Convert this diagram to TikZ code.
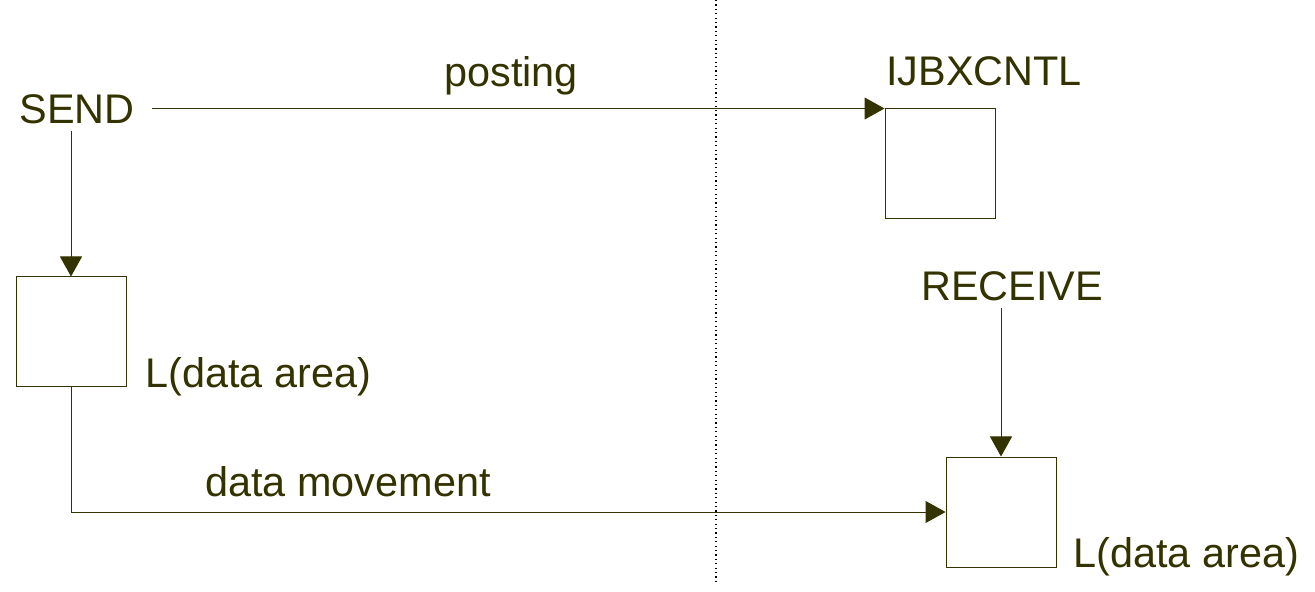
\documentclass[tikz,border=0pt]{standalone}
\usepackage{fontspec}
\setmainfont{Liberation Sans}
\usepackage{tikz}
\usetikzlibrary{positioning, arrows.meta, calc}
\definecolor{DiagOlive}{RGB}{51,51,0}

\begin{document}
\begin{tikzpicture}[
    x=0.5pt, y=-0.5pt,
    every node/.style={text=DiagOlive, font=\fontsize{20.7}{24}\selectfont},
    bufbox/.style={rectangle, draw=DiagOlive, line width=0.5pt, minimum size=55pt, inner sep=0pt},
    arr/.style={-{Triangle[length=10pt, width=11pt]}, draw=DiagOlive, line width=0.5pt}
  ]
  \useasboundingbox (0,0) rectangle (1315,592);

  % partition between the two sides
  \draw[black, line width=0.6pt, dash pattern=on 0.6pt off 1.6pt] (716,0) -- (716,585);

  % sending side
  \node (send) at (77,109) {SEND};
  \node[bufbox] (sbuf) at (71,332) {};
  \node[anchor=base west, xshift=6pt] (slbl) at (sbuf.south east) {L(data area)};

  % receiving side
  \node[bufbox] (ctl) at (940,164) {};
  \node[anchor=base] (ctllbl) at (984,86) {IJBXCNTL};
  \node (recv) at (1012,286) {RECEIVE};
  \node[bufbox] (rbuf) at (1001,512) {};
  \node[anchor=base west, xshift=5pt] (rlbl) at (rbuf.south east) {L(data area)};

  % connectors
  \draw[arr, shorten <=5pt] (send.east |- ctl.north west) -- (ctl.north west)
        node[midway, anchor=base, yshift=11pt, xshift=-1pt] (post) {posting};
  \draw[arr] (sbuf.north |- send.south) -- (sbuf.north);
  \draw[arr] (rbuf.north |- recv.south) -- (rbuf.north);
  \draw[arr] (sbuf.south) |- (rbuf.west);
  \node[anchor=base] (move) at (348,496) {data movement};
\end{tikzpicture}
\end{document}
